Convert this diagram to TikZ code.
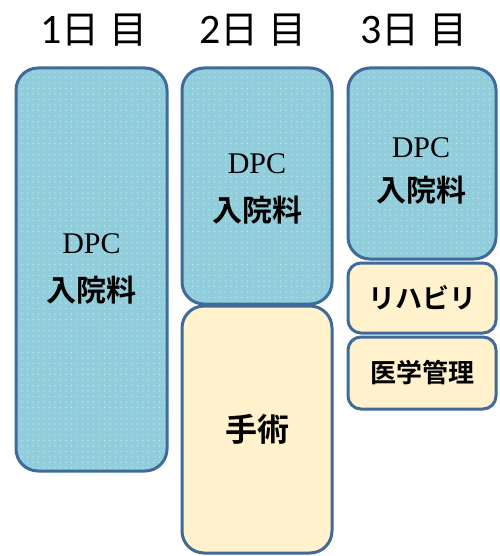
\documentclass[tikz,border=0pt]{standalone}
\usepackage{fontspec}
\usetikzlibrary{patterns.meta}
\newfontfamily\jp{Noto Sans CJK JP}
\newfontfamily\jpb{Noto Sans CJK JP Bold}
\newfontfamily\dpcfont{Liberation Serif}
\newfontfamily\digitfont{Carlito}
\definecolor{boxblue}{HTML}{92CDDC}
\definecolor{dotblue}{HTML}{D6EDF3}
\definecolor{edgeblue}{HTML}{3F6A9A}
\definecolor{cream}{HTML}{FFF2CC}
\tikzset{
  x=1pt, y=-1pt,
  basebox/.style={draw=edgeblue, line width=3pt, rounded corners=22pt, inner sep=0pt},
  bluebox/.style={basebox, preaction={fill=boxblue}, pattern={Dots[radius=0.6pt, distance=5.5pt]}, pattern color=dotblue},
  creambox/.style={basebox, fill=cream},
  smallbox/.style={rounded corners=13pt},
  dayhead/.style={font=\jp\fontsize{38}{42}\selectfont, inner sep=0pt},
  dpclabel/.style={font=\dpcfont\fontsize{30}{32}\selectfont, inner sep=0pt, text=black},
  jplabel/.style={font=\jpb\fontsize{30}{32}\selectfont, inner sep=0pt, text=black}
}
\begin{document}
\begin{tikzpicture}
\useasboundingbox (0,0) rectangle (499,556);
\node[dayhead] (h1) at (94,30) {{\digitfont\fontsize{42}{42}\selectfont 1}日\hspace{10pt}目};
\node[dayhead] (h2) at (253,30) {{\digitfont\fontsize{42}{42}\selectfont 2}日\hspace{10pt}目};
\node[dayhead] (h3) at (414,30) {{\digitfont\fontsize{42}{42}\selectfont 3}日\hspace{10pt}目};
% boxes
\node[bluebox, minimum width=151pt, minimum height=403pt] (d1) at (91.5,269.5) {};
\node[bluebox, minimum width=150pt, minimum height=236pt] (d2a) at (257,186) {};
\node[creambox, minimum width=150pt, minimum height=247pt] (d2b) at (257,429.5) {};
\node[bluebox, minimum width=148pt, minimum height=191pt] (d3a) at (422,163.5) {};
\node[creambox, smallbox, minimum width=148pt, minimum height=70pt] (d3b) at (422,298) {};
\node[creambox, smallbox, minimum width=148pt, minimum height=72pt] (d3c) at (422,373) {};
% labels
\node[dpclabel] (t1a) at (91.5,244) {DPC};
\node[jplabel] (t1b) at (91.5,290) {入院料};
\node[dpclabel] (t2a) at (257,164) {DPC};
\node[jplabel] (t2b) at (257,210) {入院料};
\node[dpclabel] (t3a) at (421,148) {DPC};
\node[jplabel] (t3b) at (421,190) {入院料};
\node[jplabel, font=\jpb\fontsize{32}{34}\selectfont] (t2c) at (d2b) {手術};
\node[jplabel, font=\jpb\fontsize{27}{30}\selectfont] (t3c) at (d3b) {リハビリ};
\node[jplabel, font=\jpb\fontsize{26}{28}\selectfont] (t3d) at (d3c) {医学管理};
\end{tikzpicture}
\end{document}
